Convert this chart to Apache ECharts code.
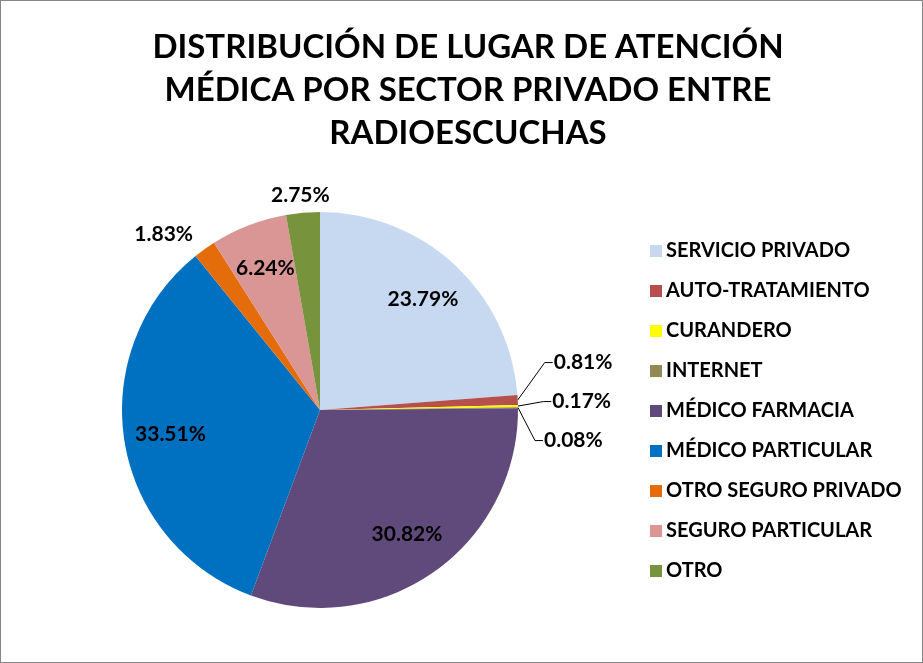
<!DOCTYPE html>
<html><head><meta charset="utf-8">
<script src="https://cdn.jsdelivr.net/npm/echarts@6/dist/echarts.min.js"></script>
<style>
html,body{margin:0;padding:0;background:#fff;}
#c{width:921px;height:661px;border:1px solid #868686;}
</style></head>
<body><div id="c"></div>
<script>
const titleText = 'DISTRIBUCIÓN DE LUGAR DE ATENCIÓN\nMÉDICA POR SECTOR PRIVADO ENTRE\nRADIOESCUCHAS';
const categories = ['SERVICIO PRIVADO','AUTO-TRATAMIENTO','CURANDERO','INTERNET','MÉDICO FARMACIA','MÉDICO PARTICULAR','OTRO SEGURO PRIVADO','SEGURO PARTICULAR','OTRO'];
const values = [23.79, 0.81, 0.17, 0.08, 30.82, 33.51, 1.83, 6.24, 2.75];
const colors = ['#C6D9F1','#B5504D','#FFFF00','#948A54','#604A7B','#0070C0','#E46C0A','#D99694','#77933C'];
const insideLabels = ['SERVICIO PRIVADO','MÉDICO FARMACIA','MÉDICO PARTICULAR','SEGURO PARTICULAR'];
const lineLabels = ['AUTO-TRATAMIENTO','CURANDERO','INTERNET'];
const centeredLabels = ['OTRO'];

const FONT = 'Lato';
const labelStyle = {fontFamily: FONT, fontWeight: 'bold', fontSize: 21, color: '#000'};
const fmt = p => p.value.toFixed(2) + '%';
const LIFT = 36, TAIL = 8;

const mainData = categories.map((n,i)=>{
  const inside = insideLabels.includes(n);
  const withLine = lineLabels.includes(n);
  const item = {
    name: n, value: values[i], itemStyle: {color: colors[i]},
    label: {show: !inside},
    labelLine: {show: withLine, length: withLine ? 28 : 18, length2: withLine ? TAIL : 0}
  };
  if (withLine) item.label.lineHeight = 37;
  return item;
});
const overlayData = categories.map((n,i)=>({
  name: n, value: values[i],
  label: {show: insideLabels.includes(n)}
}));

const chart = echarts.init(document.getElementById('c'));
chart.setOption({
  animation: false,
  title: {
    text: titleText, left: 462, top: 20, textAlign: 'center',
    textStyle: {fontFamily: FONT, fontWeight: 'bold', fontSize: 33, lineHeight: 43, color: '#000'}
  },
  legend: {
    orient: 'vertical', left: 644, top: 235,
    data: categories,
    itemWidth: 12, itemHeight: 12, itemGap: 20,
    icon: 'rect',
    textStyle: {fontFamily: FONT, fontWeight: 'bold', fontSize: 20, color: '#000', padding: [0,0,0,-1]}
  },
  series: [{
    type: 'pie', center: [319, 409], radius: 198, startAngle: 90, clockwise: true,
    avoidLabelOverlap: true,
    data: mainData,
    label: Object.assign({position: 'outside', formatter: fmt, distanceToLabelLine: 1}, labelStyle),
    labelLine: {lineStyle: {color: '#000', width: 1}},
    labelLayout: p => {
      const n = categories[p.dataIndex];
      if (centeredLabels.includes(n)) return {align: 'center', verticalAlign: 'middle'};
      if (lineLabels.includes(n) && p.labelLinePoints) {
        const pts = p.labelLinePoints;
        const end = [pts[2][0], pts[2][1] - LIFT];
        return {dy: -LIFT, labelLinePoints: [pts[0], [end[0] - TAIL, end[1]], end]};
      }
      return {};
    },
    itemStyle: {borderWidth: 0}
  },{
    type: 'pie', center: [319, 409], radius: [99, 198], startAngle: 90, clockwise: true,
    silent: true, legendHoverLink: false,
    data: overlayData,
    itemStyle: {color: 'rgba(0,0,0,0)'},
    label: Object.assign({position: 'inside', formatter: fmt}, labelStyle),
    labelLine: {show: false}
  }]
});
</script></body></html>
